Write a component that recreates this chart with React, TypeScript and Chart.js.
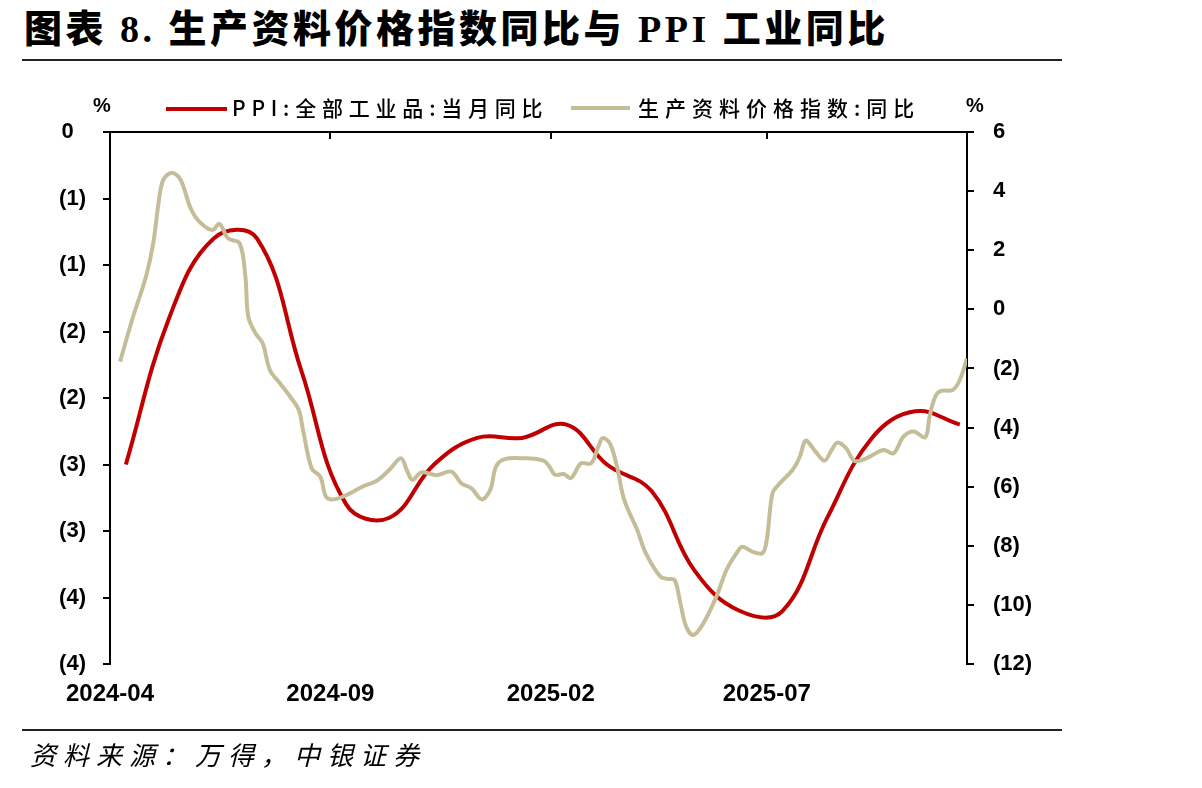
import React, { useEffect, useRef } from 'react';
import { Chart, registerables } from 'chart.js';

Chart.register(...registerables);

const TITLE = '图表 8. 生产资料价格指数同比与 PPI 工业同比';
const SOURCE = '资料来源：万得，中银证券';
const PPI_LABEL = 'PPI:全部工业品:当月同比';
const MEANS_LABEL = '生产资料价格指数:同比';
const UNIT_LEFT = '%';
const UNIT_RIGHT = '%';

const X_MIN = '2024-04-01';
const X_MAX = '2025-11-17';
const xTickDates = ['2024-04-01', '2024-09-01', '2025-02-01', '2025-07-01'];

const ppiDates = [
  '2024-04-12', '2024-05-12', '2024-06-12', '2024-07-12', '2024-08-12', '2024-09-12', '2024-10-12',
  '2024-11-12', '2024-12-12', '2025-01-12', '2025-02-12', '2025-03-12', '2025-04-12', '2025-05-12',
  '2025-06-12', '2025-07-12', '2025-08-12', '2025-09-12', '2025-10-12', '2025-11-12',
];
const ppiValues = [
  -2.5, -1.4, -0.8, -0.8, -1.8, -2.8, -2.9, -2.5, -2.3, -2.3, -2.2, -2.5, -2.7, -3.3, -3.6, -3.6, -2.9, -2.3,
  -2.1, -2.2,
];

const meansDates = [
  '2024-04-08', '2024-04-17', '2024-04-26', '2024-05-01', '2024-05-05', '2024-05-08', '2024-05-14', '2024-05-20',
  '2024-05-27', '2024-06-02', '2024-06-11', '2024-06-16', '2024-06-22', '2024-06-30', '2024-07-04', '2024-07-06',
  '2024-07-11', '2024-07-16', '2024-07-21', '2024-07-28', '2024-08-04', '2024-08-10', '2024-08-13', '2024-08-19',
  '2024-08-25', '2024-08-29', '2024-09-03', '2024-09-11', '2024-09-24', '2024-10-03', '2024-10-12', '2024-10-20',
  '2024-10-24', '2024-10-28', '2024-11-03', '2024-11-14', '2024-11-24', '2024-12-01', '2024-12-08', '2024-12-15',
  '2024-12-21', '2024-12-25', '2024-12-31', '2025-01-13', '2025-01-27', '2025-01-31', '2025-02-04', '2025-02-10',
  '2025-02-15', '2025-02-22', '2025-03-01', '2025-03-06', '2025-03-09', '2025-03-14', '2025-03-19', '2025-03-24',
  '2025-04-02', '2025-04-08', '2025-04-18', '2025-04-23', '2025-04-28', '2025-05-02', '2025-05-06', '2025-05-11',
  '2025-05-18', '2025-05-27', '2025-06-03', '2025-06-10', '2025-06-14', '2025-06-21', '2025-06-28', '2025-07-01',
  '2025-07-05', '2025-07-10', '2025-07-19', '2025-07-24', '2025-07-28', '2025-08-03', '2025-08-10', '2025-08-15',
  '2025-08-19', '2025-08-25', '2025-08-31', '2025-09-08', '2025-09-20', '2025-09-27', '2025-10-04', '2025-10-11',
  '2025-10-19', '2025-10-22', '2025-10-26', '2025-10-30', '2025-11-07', '2025-11-12', '2025-11-17',
];
const meansValues = [
  -1.77, -0.25, 1.11, 2.23, 3.7, 4.38, 4.62, 4.38, 3.42, 2.97,
  2.68, 2.89, 2.4, 2.23, 1.11, -0.25, -0.81, -1.15, -2.05, -2.5,
  -2.95, -3.4, -4.08, -5.38, -5.66, -6.34, -6.43, -6.31, -5.98, -5.81,
  -5.43, -5.04, -5.43, -5.77, -5.52, -5.61, -5.49, -5.89, -6.06, -6.43,
  -6.11, -5.32, -5.07, -5.04, -5.12, -5.32, -5.6, -5.57, -5.71, -5.21,
  -5.21, -4.65, -4.36, -4.53, -5.32, -6.45, -7.46, -8.25, -9.04, -9.12,
  -9.16, -9.94, -10.73, -11.02, -10.62, -9.72, -8.82, -8.25, -8.03, -8.2,
  -8.25, -7.8, -6.22, -5.89, -5.43, -4.98, -4.44, -4.76, -5.12, -4.76,
  -4.51, -4.7, -5.13, -5.04, -4.76, -4.87, -4.3, -4.13, -4.33, -3.63,
  -2.95, -2.76, -2.73, -2.39, -1.66,
];

const RED = '#C00000';
const TAN = '#C4BD97';

const toMs = (s: string) => {
  const [y, m, d] = s.split('-').map(Number);
  return Date.UTC(y, m - 1, d);
};

const fmtMonth = (v: number) => {
  const d = new Date(v);
  const m = d.getUTCMonth() + 1;
  return `${d.getUTCFullYear()}-${m < 10 ? '0' + m : m}`;
};

const paren = (v: number, round: boolean) => {
  const a = round ? Math.round(Math.abs(v)) : Math.abs(v);
  if (v < 0) return `(${a})`;
  return `${a}`;
};

const tickFont = { family: "'Liberation Sans', Arial, sans-serif", size: 22, weight: 'bold' as const };

const topAxisPlugin = {
  id: 'topAxis',
  afterDraw(chart: any) {
    const { ctx, chartArea } = chart;
    const xs = chart.scales.x;
    ctx.save();
    ctx.strokeStyle = '#000';
    ctx.lineWidth = 2;
    ctx.beginPath();
    ctx.moveTo(chartArea.left - 1, chartArea.top);
    ctx.lineTo(chartArea.right + 1, chartArea.top);
    xs.ticks.forEach((t: any, i: number) => {
      if (i === 0) return;
      const px = Math.round(xs.getPixelForValue(t.value));
      ctx.moveTo(px, chartArea.top);
      ctx.lineTo(px, chartArea.top + 7);
    });
    ctx.stroke();
    ctx.restore();
  },
};

export default function App() {
  const canvasRef = useRef<HTMLCanvasElement | null>(null);

  useEffect(() => {
    if (!canvasRef.current) return;
    const chart = new Chart(canvasRef.current, {
      type: 'line',
      data: {
        datasets: [
          {
            label: MEANS_LABEL,
            data: meansDates.map((d, i) => ({ x: toMs(d), y: meansValues[i] })),
            yAxisID: 'y1',
            borderColor: TAN,
            borderWidth: 4,
            pointRadius: 0,
            tension: 0.35,
            order: 0,
          },
          {
            label: PPI_LABEL,
            data: ppiDates.map((d, i) => ({ x: toMs(d), y: ppiValues[i] })),
            yAxisID: 'y',
            borderColor: RED,
            borderWidth: 4,
            pointRadius: 0,
            tension: 0.4,
            order: 1,
          },
        ],
      },
      options: {
        animation: false,
        responsive: false,
        events: [],
        layout: { padding: { top: 132, left: 0, right: 0, bottom: 0 } },
        plugins: { legend: { display: false }, tooltip: { enabled: false }, title: { display: false } },
        scales: {
          x: {
            type: 'linear',
            position: 'bottom',
            min: toMs(X_MIN),
            max: toMs(X_MAX),
            afterBuildTicks: (s: any) => {
              s.ticks = xTickDates.map((d) => ({ value: toMs(d) }));
            },
            afterFit: (s: any) => {
              s.height = 124;
            },
            grid: { display: false, drawTicks: false },
            border: { display: false },
            ticks: {
              autoSkip: false,
              maxRotation: 0,
              padding: 16,
              color: '#000',
              font: { family: "'Liberation Sans', Arial, sans-serif", size: 24, weight: 'bold' },
              callback: (v: any) => fmtMonth(Number(v)),
            },
          },
          y: {
            position: 'left',
            min: -4,
            max: 0,
            afterFit: (s: any) => {
              s.width = 110;
            },
            ticks: {
              stepSize: 0.5,
              padding: 17,
              color: '#000',
              font: tickFont,
              callback: (v: any) => (Number(v) === 0 ? '0\u2007' : paren(Number(v), true)),
            },
            grid: { drawOnChartArea: false, drawTicks: true, tickLength: 7, color: '#000', lineWidth: 2 },
            border: { display: true, color: '#000', width: 2 },
          },
          y1: {
            position: 'right',
            min: -12,
            max: 6,
            afterFit: (s: any) => {
              s.width = 235;
            },
            ticks: {
              stepSize: 2,
              padding: 19,
              color: '#000',
              font: tickFont,
              callback: (v: any) => paren(Number(v), false),
            },
            grid: { drawOnChartArea: false, drawTicks: true, tickLength: 7, color: '#000', lineWidth: 2 },
            border: { display: true, color: '#000', width: 2 },
          },
        },
      },
      plugins: [topAxisPlugin],
    } as any);
    return () => chart.destroy();
  }, []);

  const cjk = "'Noto Sans CJK SC', 'Liberation Sans', sans-serif";

  return (
    <div
      style={{
        position: 'absolute',
        left: 0,
        top: 0,
        width: 1202,
        height: 788,
        background: '#fff',
        overflow: 'hidden',
      }}
    >
      <div
        style={{
          position: 'absolute',
          left: 24,
          top: 8,
          fontFamily: "'Liberation Serif', 'Noto Sans CJK SC', serif",
          fontWeight: 900,
          fontSize: 38,
          lineHeight: '42px',
          letterSpacing: 3.5,
          whiteSpace: 'nowrap',
          color: '#000',
        }}
      >
        {TITLE}
      </div>
      <div style={{ position: 'absolute', left: 22, top: 59, width: 1040, height: 2, background: '#222' }} />
      <canvas ref={canvasRef} width={1202} height={788} style={{ position: 'absolute', left: 0, top: 0 }} />
      <div
        style={{
          position: 'absolute',
          left: 93,
          top: 93,
          fontFamily: "'Liberation Sans', Arial, sans-serif",
          fontWeight: 'bold',
          fontSize: 20,
          lineHeight: '24px',
        }}
      >
        {UNIT_LEFT}
      </div>
      <div
        style={{
          position: 'absolute',
          left: 966,
          top: 93,
          fontFamily: "'Liberation Sans', Arial, sans-serif",
          fontWeight: 'bold',
          fontSize: 20,
          lineHeight: '24px',
        }}
      >
        {UNIT_RIGHT}
      </div>
      <div style={{ position: 'absolute', left: 166, top: 107, width: 61, height: 4, background: RED }} />
      <div
        style={{
          position: 'absolute',
          left: 232,
          top: 94,
          fontFamily: cjk,
          fontWeight: 500,
          fontSize: 21,
          lineHeight: '26px',
          letterSpacing: 5.8,
          whiteSpace: 'nowrap',
        }}
      >
        {PPI_LABEL}
      </div>
      <div style={{ position: 'absolute', left: 571, top: 106, width: 59, height: 4, background: TAN }} />
      <div
        style={{
          position: 'absolute',
          left: 638,
          top: 94,
          fontFamily: cjk,
          fontWeight: 500,
          fontSize: 21,
          lineHeight: '26px',
          letterSpacing: 6,
          whiteSpace: 'nowrap',
        }}
      >
        {MEANS_LABEL}
      </div>
      <div style={{ position: 'absolute', left: 22, top: 729, width: 1040, height: 2, background: '#222' }} />
      <div
        style={{
          position: 'absolute',
          left: 30,
          top: 738,
          fontFamily: cjk,
          fontStyle: 'italic',
          fontSize: 26,
          lineHeight: '32px',
          letterSpacing: 7,
          whiteSpace: 'nowrap',
        }}
      >
        {SOURCE}
      </div>
    </div>
  );
}
